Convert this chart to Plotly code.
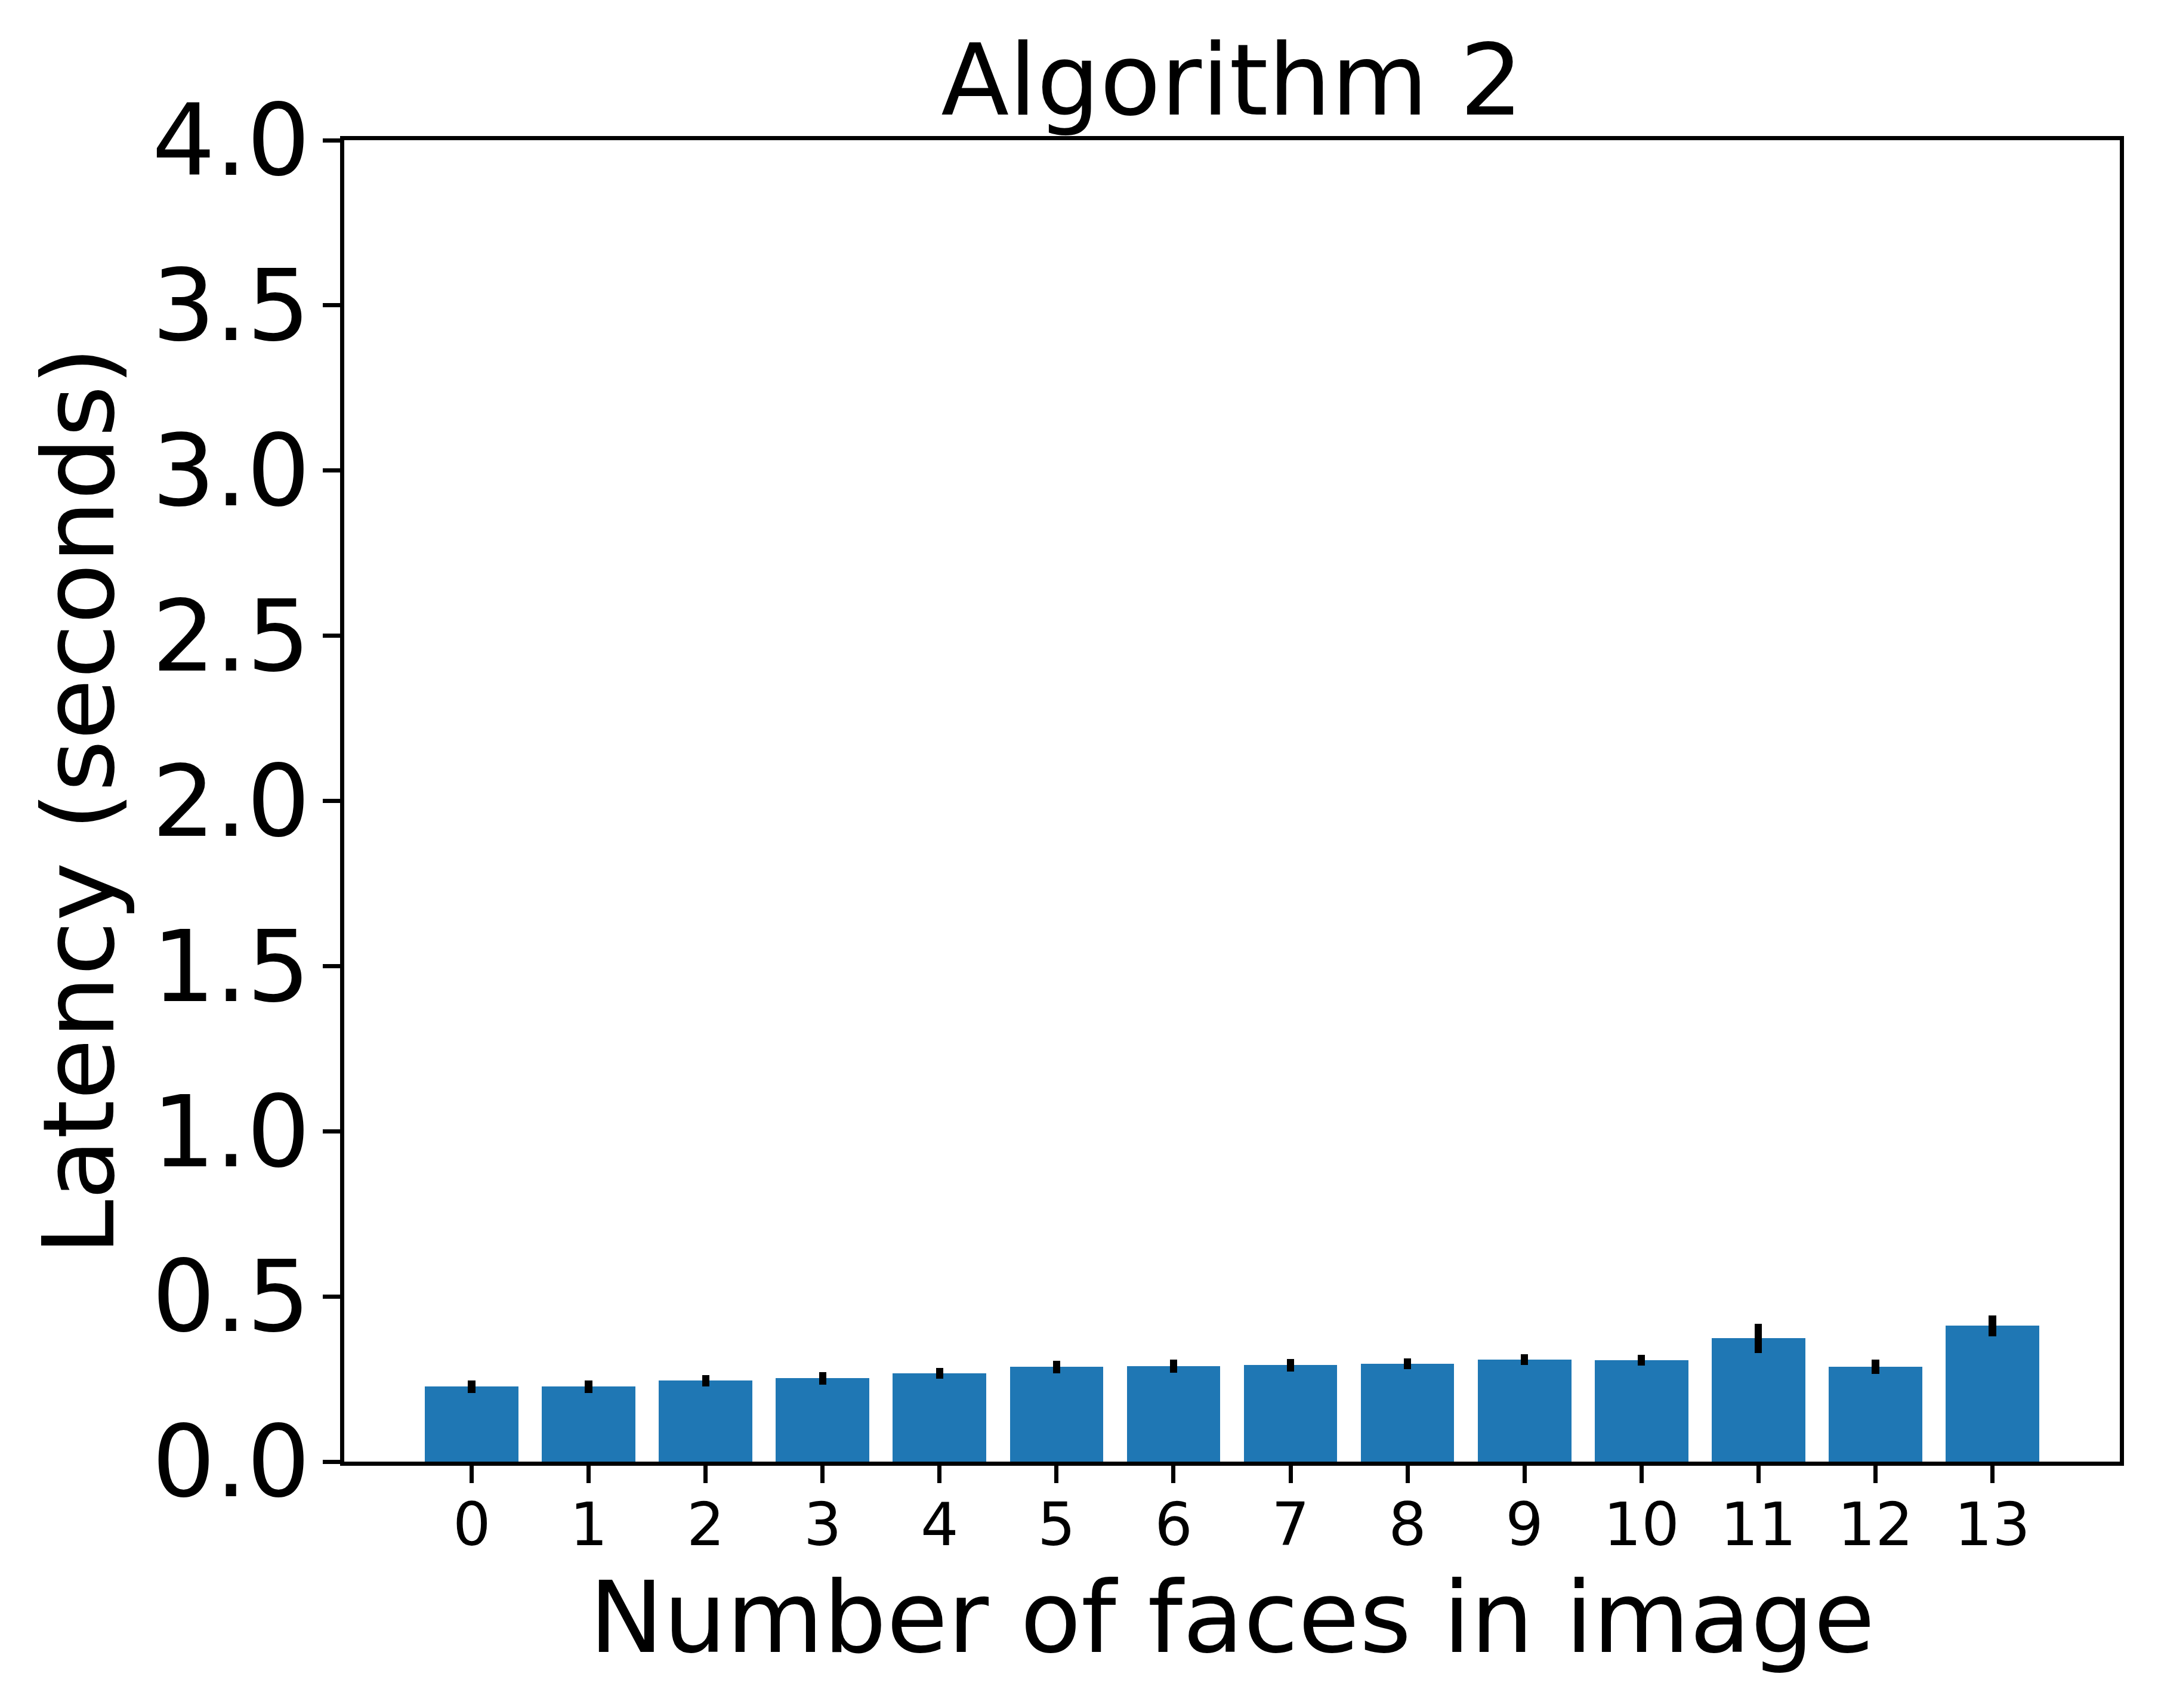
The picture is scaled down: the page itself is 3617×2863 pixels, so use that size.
import plotly.graph_objects as go

faces = list(range(14))
latency = [0.227, 0.227, 0.245, 0.252, 0.267, 0.287, 0.289, 0.292, 0.296, 0.309, 0.307, 0.373, 0.287, 0.411]
latency_err = [0.0195, 0.0186, 0.0177, 0.019, 0.016, 0.019, 0.020, 0.0195, 0.016, 0.0167, 0.0167, 0.044, 0.022, 0.031]
y_ticks = [0.0, 0.5, 1.0, 1.5, 2.0, 2.5, 3.0, 3.5, 4.0]

W, H = 3617, 2863
L, R, T, B = 577, 64, 235, 413
FONT = "DejaVu Sans"
BIG = 166.7
SMALL = 100
LW = 6.67

fig = go.Figure()
fig.add_trace(go.Bar(
    x=faces, y=latency, width=0.8,
    marker=dict(color="#1f77b4", line=dict(width=0)),
    error_y=dict(type="data", array=latency_err, visible=True,
                 color="black", thickness=12.5, width=0),
))

fig.update_layout(
    width=W, height=H,
    margin=dict(l=L, r=R, t=T, b=B, pad=0),
    paper_bgcolor="white", plot_bgcolor="white",
    font=dict(family=FONT, color="black", size=BIG),
    showlegend=False,
    bargap=0,
    title=dict(text="Algorithm 2", x=(L + (W - L - R) / 2) / W, xanchor="center",
               xref="container", yref="container", y=1 - 192 / H, yanchor="bottom",
               font=dict(family=FONT, size=BIG, color="black")),
)
fig.update_xaxes(
    range=[-1.09, 14.09], tickmode="array", tickvals=faces, ticktext=[str(f) for f in faces],
    showline=True, linecolor="black", linewidth=LW, mirror=True,
    ticks="outside", ticklen=29, tickwidth=LW, tickcolor="black",
    showgrid=False, zeroline=False, ticklabelstandoff=-16,
    tickfont=dict(family=FONT, size=SMALL, color="black"),
    title=dict(text="Number of faces in image", font=dict(family=FONT, size=BIG, color="black"), standoff=23),
)
fig.update_yaxes(
    range=[0, 4], tickmode="array", tickvals=y_ticks, ticktext=[f"{v:.1f}" for v in y_ticks],
    showline=True, linecolor="black", linewidth=LW, mirror=True,
    ticks="outside", ticklen=29, tickwidth=LW, tickcolor="black",
    showgrid=False, zeroline=False, ticklabelstandoff=-12,
    tickfont=dict(family=FONT, size=BIG, color="black"),
    title=dict(text="Latency (seconds)", font=dict(family=FONT, size=BIG, color="black"), standoff=10),
)

fig.write_html("out.html")
